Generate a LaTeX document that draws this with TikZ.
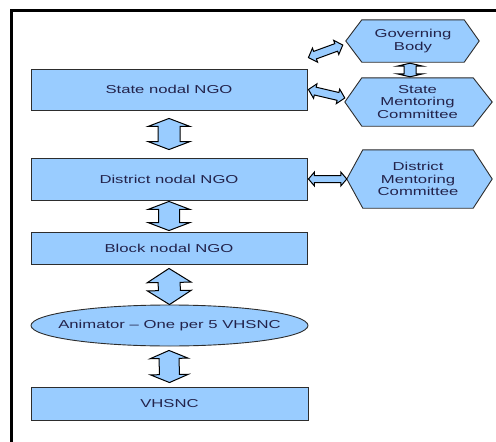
\documentclass[tikz,border=0pt]{standalone}
\usepackage{fontspec}
\newfontfamily\labelfont[FakeStretch=1.45]{Liberation Sans}
\usetikzlibrary{calc,shapes.geometric,backgrounds}
\definecolor{boxfill}{RGB}{153,204,255}
\definecolor{boxline}{RGB}{45,45,45}
\definecolor{txt}{RGB}{35,35,75}
\tikzset{
  base/.style={font=\labelfont\fontsize{11.5}{12.3}\selectfont, text=txt, inner sep=0pt, align=center},
  ngobox/.style={base, draw=boxline, fill=boxfill, line width=0.9pt, minimum width=276pt, minimum height=#1},
  hexnode/.style n args={2}{base, minimum width=#1, minimum height=#2},
  ovalnode/.style={base, ellipse, draw=boxline, fill=boxfill, line width=0.9pt, minimum width=277pt, minimum height=41pt},
  hexshape/.style={draw=boxline, fill=boxfill, line width=0.9pt, line join=miter},
  fatarr/.style={draw=black, fill=boxfill, line width=1pt, line join=miter},
  frameline/.style={line width=2.5pt, black}
}
% #1 node, #2 left point extent, #3 right point extent
\newcommand\hexagonbg[3]{%
  \draw[hexshape] (#1.north west) -- (#1.north east) -- ($(#1.east)+(#3,0)$)
    -- (#1.south east) -- (#1.south west) -- ($(#1.west)+(-#2,0)$) -- cycle;}
% #1 start, #2 end, #3 head length, #4 head half width, #5 shaft half width
\newcommand\fatarrow[5]{%
  \draw[fatarr] (#1)
    -- ($(#1)!#3!(#2)!#4!90:(#2)$) -- ($(#1)!#3!(#2)!#5!90:(#2)$)
    -- ($(#2)!#3!(#1)!#5!-90:(#1)$) -- ($(#2)!#3!(#1)!#4!-90:(#1)$)
    -- (#2)
    -- ($(#2)!#3!(#1)!#4!90:(#1)$) -- ($(#2)!#3!(#1)!#5!90:(#1)$)
    -- ($(#1)!#3!(#2)!#5!-90:(#2)$) -- ($(#1)!#3!(#2)!#4!-90:(#2)$)
    -- cycle;}
\begin{document}
\begin{tikzpicture}[x=1pt, y=-1pt]
\useasboundingbox (0,0) rectangle (496,442);
\draw[frameline] (11.3,442) -- (11.3,10.5) -- (496,10.5);

\node[ngobox=41pt] (state) at (169,89.5) {State nodal NGO};
\node[ngobox=42pt] (district) at (169,179) {District nodal NGO};
\node[ngobox=32pt] (block) at (169,248) {Block nodal NGO};
\node[ovalnode] (anim) at (169.5,325.5) {\makebox[0pt]{Animator – One per 5 VHSNC}};
\node[ngobox=33pt, minimum width=277pt] (vhsnc) at (169.5,403.5) {VHSNC};

\node[hexnode={102pt}{42pt}] (gb) at (413,41) {Governing\\Body};
\node[hexnode={111pt}{48pt}] (smc) at (417.5,102) {State\\Mentoring\\Committee};
\node[hexnode={110pt}{58pt}] (dmc) at (418,179) {District\\Mentoring\\Committee};
\begin{scope}[on background layer]
  \hexagonbg{gb}{16}{15}
  \hexagonbg{smc}{17}{19}
  \hexagonbg{dmc}{16}{19}
\end{scope}

\coordinate (a1s) at ($(state.south)+(0,8)$);
\coordinate (a1e) at ($(district.north)+(0,-8)$);
\coordinate (a2s) at ($(district.south)+(0,1)$);
\coordinate (a2e) at ($(block.north)+(0,-1)$);
\coordinate (a3s) at ($(block.south)+(0,4)$);
\coordinate (a3e) at ($(anim.north)+(0,0)$);
\coordinate (a4s) at ($(anim.south)+(-0.5,4)$);
\coordinate (a4e) at ($(vhsnc.north)+(0,-4)$);
\coordinate (a5s) at ($(gb.south)+(-3,1)$);
\coordinate (a5e) at ($(smc.north)+(-7.5,-1)$);
\coordinate (a6s) at ($(state.north east)+(1,-11)$);
\coordinate (a6e) at ($(gb.west)+(-19,4)$);
\coordinate (a7s) at ($(state.east)+(1,0)$);
\coordinate (a7e) at ($(smc.west)+(-17,-4)$);
\coordinate (a8s) at ($(district.east)+(1,0)$);
\coordinate (a8e) at ($(dmc.west)+(-16,0)$);

\fatarrow{a1s}{a1e}{8pt}{21pt}{11pt}
\fatarrow{a2s}{a2e}{8pt}{21pt}{10.5pt}
\fatarrow{a3s}{a3e}{14pt}{22pt}{11pt}
\fatarrow{a4s}{a4e}{8pt}{19pt}{10pt}
\fatarrow{a5s}{a5e}{3pt}{13pt}{6pt}
\fatarrow{a6s}{a6e}{7pt}{7.5pt}{4pt}
\fatarrow{a7s}{a7e}{7pt}{7.5pt}{4pt}
\fatarrow{a8s}{a8e}{6pt}{7pt}{3.5pt}
\end{tikzpicture}
\end{document}
